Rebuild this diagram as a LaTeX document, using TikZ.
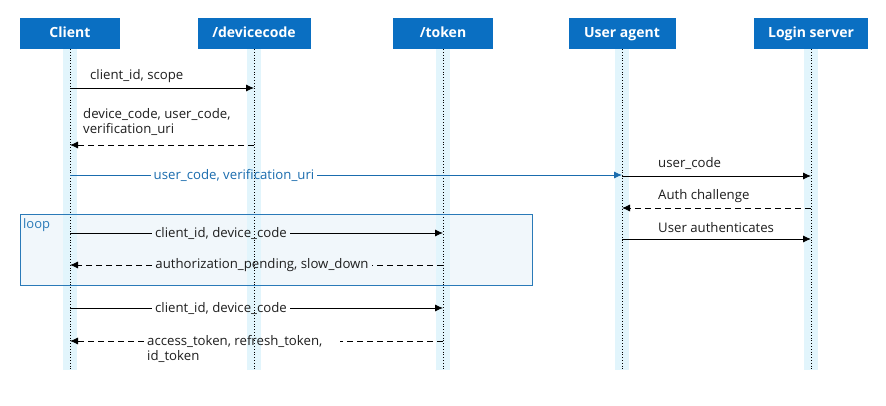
\documentclass[tikz,border=0pt]{standalone}
\usepackage{fontspec}
\setmainfont{Open Sans}
\usetikzlibrary{arrows.meta}
\definecolor{hdr}{HTML}{0A6FC2}
\definecolor{band}{HTML}{E2F5FC}
\definecolor{msgblue}{HTML}{1A6CAE}
\definecolor{loopfill}{HTML}{F1F7FB}
\definecolor{loopline}{HTML}{2A7AB8}
\definecolor{txt}{HTML}{1E1E1E}
\begin{document}
\begin{tikzpicture}[x=1pt,y=-1pt,
  hdrbox/.style={fill=hdr, text=white, font=\bfseries\fontsize{14}{16}\selectfont, minimum height=31pt, inner sep=0pt, text height=10.5pt, text depth=3pt},
  lbl/.style={font=\fontsize{13.2}{15}\selectfont, text=txt, inner sep=3pt},
  msg/.style={-{Latex[length=8pt,width=7pt]}, line width=0.8pt, draw=black},
  plain/.style={line width=0.8pt},
  ret/.style={msg, dash pattern=on 6pt off 4pt},
  retplain/.style={plain, dash pattern=on 6pt off 4pt},
  lifeline/.style={dotted, line width=0.8pt},
  bandfill/.style={fill=band}]
\useasboundingbox[fill=white] (0,0) rectangle (886,405);

% headers
\node[hdrbox, minimum width=100pt] (client) at (70,33.5) {Client};
\node[hdrbox, minimum width=113pt] (dev) at (254,33.5) {/devicecode};
\node[hdrbox, minimum width=100pt] (tok) at (443,33.5) {/token};
\node[hdrbox, minimum width=107pt] (ua) at (622,33.5) {User agent};
\node[hdrbox, minimum width=114pt] (ls) at (811,33.5) {Login server};

\coordinate (clientEnd) at (70,370);
\coordinate (devEnd) at (254,370);
\coordinate (tokEnd) at (443,370);
\coordinate (uaEnd) at (622,370);
\coordinate (lsEnd) at (811,370);

% loop box fill
\coordinate (loopA) at (20,214);
\coordinate (loopB) at (532,285);
\fill[loopfill] (loopA) rectangle (loopB);

% bands and lifelines
\foreach \n in {client,dev,tok,ua,ls}{
  \fill[band] ([xshift=-7pt]\n.south) rectangle ([xshift=7pt]\n End);
  \draw[lifeline] (\n.south) -- (\n End);
}
\draw[loopline, line width=0.8pt] (loopA) rectangle (loopB);
\node[font=\fontsize{13}{14}\selectfont, text=loopline, anchor=west, inner sep=0pt] (looplbl) at (23,225) {loop};

% message 1
\coordinate (m1a) at (70,88);
\coordinate (m1b) at (254,88);
\draw[msg] (m1a) -- (m1b);
\node[lbl, anchor=west] (l1) at (87,76) {client\_id, scope};

% message 2
\coordinate (m2a) at (254,145);
\coordinate (m2b) at (70,145);
\draw[ret] (m2a) -- (m2b);
\node[lbl, anchor=west, align=left] (l2) at (80,121.5) {device\_code, user\_code,\\verification\_uri};

% message 3 (blue)
\coordinate (m3a) at (70,175);
\coordinate (m3b) at (622,175);
\node[lbl, text=msgblue] (l3) at (234,175) {user\_code, verification\_uri};
\draw[plain, msgblue] (m3a) -- (l3.west);
\draw[msg, draw=msgblue, -{Latex[length=8pt,width=7pt,fill=msgblue]}] (l3.east) -- (m3b);

% message 4
\coordinate (m4a) at (622,176);
\coordinate (m4b) at (811,176);
\draw[msg] (m4a) -- (m4b);
\node[lbl, anchor=west] (l4) at (655,163) {user\_code};

% message 5
\coordinate (m5a) at (811,208);
\coordinate (m5b) at (622,208);
\draw[ret] (m5a) -- (m5b);
\node[lbl, anchor=west] (l5) at (655,196) {Auth challenge};

% message 6
\coordinate (m6a) at (622,239);
\coordinate (m6b) at (811,239);
\draw[msg] (m6a) -- (m6b);
\node[lbl, anchor=west] (l6) at (655,228) {User authenticates};

% message 7 (loop)
\coordinate (m7a) at (70,233);
\coordinate (m7b) at (443,233);
\node[lbl] (l7) at (221,233) {client\_id, device\_code};
\draw[plain] (m7a) -- (l7.west);
\draw[msg] (l7.east) -- (m7b);

% message 8 (loop)
\coordinate (m8a) at (443,265);
\coordinate (m8b) at (70,265);
\node[lbl] (l8) at (262,265) {authorization\_pending, slow\_down};
\draw[retplain] (m8a) -- (l8.east);
\draw[ret] (l8.west) -- (m8b);

% message 9
\coordinate (m9a) at (70,308);
\coordinate (m9b) at (443,308);
\node[lbl] (l9) at (221,308) {client\_id, device\_code};
\draw[plain] (m9a) -- (l9.west);
\draw[msg] (l9.east) -- (m9b);

% message 10
\coordinate (m10a) at (443,341);
\coordinate (m10b) at (70,341);
\node[lbl, anchor=west, align=left] (l10) at (144,348.5) {access\_token, refresh\_token,\\id\_token};
\draw[retplain] (m10a) -- ([xshift=14pt]l10.east |- m10a);
\draw[ret] (l10.west |- m10a) -- (m10b);
\end{tikzpicture}
\end{document}
